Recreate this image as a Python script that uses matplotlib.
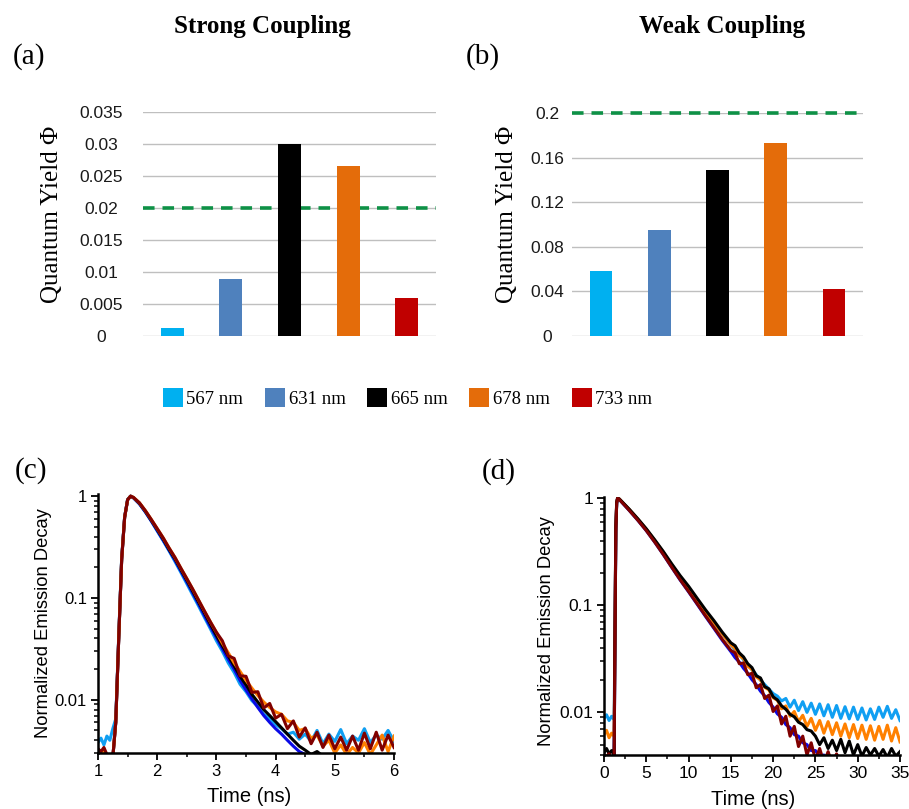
import numpy as np
import matplotlib
matplotlib.use('Agg')
import matplotlib.pyplot as plt
from matplotlib.ticker import FixedLocator, MultipleLocator, LogLocator, NullFormatter

plt.rcParams['font.family'] = ['Liberation Sans', 'DejaVu Sans']

# ---- bar data: quantum yields ----
wavelengths = ['567 nm', '631 nm', '665 nm', '678 nm', '733 nm']
bar_colors = ['#00b0f0', '#4f81bd', '#000000', '#e46c0a', '#c00000']
qy_strong = [0.00125, 0.00885, 0.0300, 0.0266, 0.0059]
qy_weak = [0.058, 0.095, 0.149, 0.173, 0.042]
ref_strong = 0.02
ref_weak = 0.2

# ---- decay data (c): strong coupling, time in ns ----
t_c = [1.0, 1.05, 1.1, 1.15, 1.2, 1.25, 1.3, 1.35, 1.4, 1.45, 1.5, 1.55, 1.6,
       1.7, 1.8, 1.9, 2.0, 2.1, 2.2, 2.3, 2.4, 2.5, 2.6, 2.7, 2.8, 2.9, 3.0,
       3.1, 3.2, 3.3, 3.4, 3.5, 3.6, 3.7, 3.8, 3.9, 4.0,
       4.1, 4.2, 4.3, 4.4, 4.5, 4.6, 4.7, 4.8, 4.9, 5.0,
       5.1, 5.2, 5.3, 5.4, 5.5, 5.6, 5.7, 5.8, 5.9, 6.0]
dc_567 = [0.0038, 0.0042, 0.0036, 0.0044, 0.0040, 0.0052, 0.0065, 0.042, 0.25, 0.63, 0.93, 1.0, 0.96,
          0.84, 0.70, 0.57, 0.455, 0.365, 0.29, 0.228, 0.178, 0.138, 0.107, 0.083, 0.064, 0.0495, 0.038,
          0.030, 0.023, 0.0185, 0.0142, 0.0120, 0.0098, 0.0086, 0.0072, 0.0066, 0.0057,
          0.0052, 0.0046, 0.0048, 0.0041, 0.0046, 0.0039, 0.0050, 0.0037, 0.0046, 0.0039,
          0.0051, 0.0037, 0.0044, 0.0040, 0.0052, 0.0038, 0.0045, 0.0041, 0.0050, 0.0039]
dc_631 = [0.0030, 0.0029, 0.0031, 0.0028, 0.0029, 0.0027, 0.006, 0.04, 0.24, 0.62, 0.92, 1.0, 0.96,
          0.84, 0.70, 0.57, 0.46, 0.37, 0.295, 0.235, 0.184, 0.144, 0.112, 0.087, 0.067, 0.052, 0.041,
          0.032, 0.025, 0.020, 0.0155, 0.0125, 0.0102, 0.0084, 0.0070, 0.0060, 0.0052,
          0.0046, 0.0040, 0.0035, 0.0031, 0.0029, 0.0028, 0.0027, 0.0029, 0.0027, 0.0028,
          0.0026, 0.0029, 0.0027, 0.0028, 0.0026, 0.0028, 0.0027, 0.0029, 0.0026, 0.0028]
dc_665 = [0.0029, 0.0028, 0.0030, 0.0028, 0.0027, 0.0027, 0.006, 0.04, 0.24, 0.62, 0.92, 1.0, 0.97,
          0.85, 0.71, 0.58, 0.47, 0.38, 0.30, 0.243, 0.19, 0.15, 0.117, 0.091, 0.071, 0.055, 0.043,
          0.034, 0.027, 0.0215, 0.017, 0.014, 0.0113, 0.0095, 0.0080, 0.0070, 0.0061,
          0.0053, 0.0046, 0.0040, 0.0035, 0.0032, 0.0029, 0.0031, 0.0028, 0.0027, 0.0029,
          0.0027, 0.0028, 0.0026, 0.0028, 0.0027, 0.0029, 0.0026, 0.0028, 0.0027, 0.0028]
dc_678 = [0.0030, 0.0029, 0.0031, 0.0028, 0.0029, 0.0027, 0.006, 0.04, 0.24, 0.62, 0.92, 1.0, 0.97,
          0.86, 0.72, 0.59, 0.48, 0.39, 0.31, 0.25, 0.196, 0.155, 0.122, 0.095, 0.074, 0.058, 0.046,
          0.036, 0.029, 0.023, 0.019, 0.0155, 0.013, 0.0110, 0.0095, 0.0084, 0.0076,
          0.0072, 0.0062, 0.0060, 0.0050, 0.0052, 0.0042, 0.0045, 0.0035, 0.0040, 0.0030,
          0.0036, 0.0029, 0.0034, 0.0030, 0.0038, 0.0029, 0.0036, 0.0045, 0.0031, 0.0044]
dc_733 = [0.0033, 0.0031, 0.0034, 0.0029, 0.0028, 0.0027, 0.006, 0.04, 0.24, 0.62, 0.92, 1.0, 0.97,
          0.86, 0.72, 0.59, 0.48, 0.39, 0.31, 0.25, 0.196, 0.155, 0.122, 0.095, 0.074, 0.058, 0.046,
          0.038, 0.027, 0.0255, 0.0172, 0.0170, 0.0118, 0.0120, 0.0083, 0.0092, 0.0066,
          0.0072, 0.0052, 0.0062, 0.0043, 0.0053, 0.0037, 0.0048, 0.0034, 0.0045, 0.0033,
          0.0043, 0.0032, 0.0044, 0.0032, 0.0047, 0.0033, 0.0048, 0.0032, 0.0045, 0.0034]

# ---- decay data (d): weak coupling ----
t_d = [0, 0.3, 0.6, 0.9, 1.2, 1.3, 1.4, 1.5, 1.6, 1.8,
       2, 3, 4, 5, 6, 7, 8, 9, 10, 11, 12, 13, 14, 15,
       15.5, 16, 16.5, 17, 17.5, 18, 18.5, 19, 19.5, 20,
       20.5, 21, 21.5, 22, 22.5, 23, 23.5, 24, 24.5, 25,
       25.5, 26, 26.5, 27, 27.5, 28, 28.5, 29, 29.5, 30,
       30.5, 31, 31.5, 32, 32.5, 33, 33.5, 34, 34.5, 35]
dd_567 = [0.0088, 0.0095, 0.0084, 0.0092, 0.0086, 0.06, 0.52, 0.9, 0.99, 0.98,
          0.945, 0.78, 0.635, 0.51, 0.40, 0.31, 0.237, 0.183, 0.143, 0.111, 0.087, 0.068, 0.054, 0.043,
          0.0385, 0.035, 0.031, 0.028, 0.0250, 0.0225, 0.0200, 0.0182, 0.0165, 0.0150,
          0.0142, 0.0128, 0.0135, 0.0112, 0.0130, 0.0104, 0.0126, 0.0100, 0.0122, 0.0096,
          0.0120, 0.0093, 0.0118, 0.0090, 0.0116, 0.0088, 0.0113, 0.0087, 0.0112, 0.0086,
          0.0110, 0.0085, 0.0108, 0.0086, 0.0112, 0.0090, 0.0114, 0.0088, 0.0106, 0.0084]
dd_631 = [0.0038, 0.0037, 0.0039, 0.0036, 0.0037, 0.05, 0.5, 0.9, 1.0, 0.98,
          0.94, 0.77, 0.625, 0.50, 0.39, 0.30, 0.227, 0.173, 0.134, 0.103, 0.079, 0.061, 0.047, 0.037,
          0.0325, 0.0295, 0.0258, 0.0232, 0.0202, 0.0182, 0.0158, 0.0143, 0.0124, 0.0112,
          0.0097, 0.0090, 0.0077, 0.0072, 0.0062, 0.0060, 0.0052, 0.0050, 0.0044, 0.0044,
          0.0039, 0.0040, 0.0035, 0.0037, 0.0033, 0.0035, 0.0032, 0.0034, 0.0031, 0.0033,
          0.0030, 0.0032, 0.0030, 0.0031, 0.0029, 0.0031, 0.0029, 0.0030, 0.0029, 0.0030]
dd_665 = [0.0042, 0.0046, 0.0041, 0.0044, 0.0040, 0.06, 0.55, 0.92, 1.0, 0.99,
          0.955, 0.79, 0.645, 0.52, 0.41, 0.32, 0.245, 0.19, 0.151, 0.117, 0.091, 0.072, 0.056, 0.0447,
          0.042, 0.0360, 0.0330, 0.0285, 0.0262, 0.0220, 0.0210, 0.0174, 0.0166, 0.0140,
          0.0131, 0.0115, 0.0107, 0.0096, 0.0091, 0.0081, 0.0077, 0.0069, 0.0067, 0.0060,
          0.0050, 0.0058, 0.0046, 0.0055, 0.0044, 0.0056, 0.0042, 0.0054, 0.0040, 0.0050,
          0.0039, 0.0047, 0.0040, 0.0046, 0.0039, 0.0045, 0.0038, 0.0046, 0.0039, 0.0043]
dd_678 = [0.0062, 0.0068, 0.0058, 0.0064, 0.0060, 0.06, 0.55, 0.92, 1.0, 0.99,
          0.95, 0.785, 0.64, 0.515, 0.405, 0.315, 0.24, 0.186, 0.146, 0.113, 0.088, 0.069, 0.054, 0.043,
          0.0395, 0.034, 0.0318, 0.0270, 0.0252, 0.0215, 0.0202, 0.0172, 0.0162, 0.0137,
          0.0130, 0.0108, 0.0115, 0.0092, 0.0102, 0.0082, 0.0094, 0.0074, 0.0088, 0.0068,
          0.0084, 0.0064, 0.0082, 0.0062, 0.0080, 0.0060, 0.0078, 0.0058, 0.0077, 0.0057,
          0.0076, 0.0056, 0.0075, 0.0055, 0.0074, 0.0056, 0.0076, 0.0054, 0.0072, 0.0053]
dd_733 = [0.0040, 0.0039, 0.0041, 0.0038, 0.0039, 0.05, 0.5, 0.9, 1.0, 0.98,
          0.94, 0.77, 0.625, 0.50, 0.39, 0.30, 0.228, 0.174, 0.135, 0.104, 0.080, 0.062, 0.048, 0.038,
          0.0360, 0.0285, 0.0290, 0.0225, 0.0232, 0.0170, 0.0182, 0.0135, 0.0145, 0.0102,
          0.0115, 0.0078, 0.0092, 0.0060, 0.0074, 0.0048, 0.0060, 0.0040, 0.0052, 0.0036,
          0.0046, 0.0034, 0.0043, 0.0033, 0.0041, 0.0032, 0.0035, 0.0038, 0.0034, 0.0037,
          0.0033, 0.0036, 0.0032, 0.0035, 0.0032, 0.0034, 0.0031, 0.0034, 0.0031, 0.0033]

c_567, c_631, c_665, c_678, c_733 = '#109ff2', '#0a0ae6', '#000000', '#ff8000', '#800000'

fig = plt.figure(figsize=(9.09, 8.09), dpi=100)
W, H = 909, 809


def px_axes(x0, y0, x1, y1):
    return fig.add_axes([x0 / W, 1 - y1 / H, (x1 - x0) / W, (y1 - y0) / H])


serif = ['Liberation Serif', 'DejaVu Serif']


def bar_panel(ax, vals, ref, ticks, ticklabels, pad):
    x = np.arange(len(vals))
    ax.bar(x, vals, 0.39, color=bar_colors, zorder=3)
    ax.axhline(ref, color='#0e9146', lw=2.6, ls=(0, (3.2, 2.2)), zorder=2, clip_on=False)
    ax.set_xlim(-0.5, len(vals) - 0.5)
    ax.set_ylim(0, ticks[-1])
    ax.set_yticks(ticks)
    ax.set_yticklabels(ticklabels)
    ax.grid(axis='y', color='#bfbfbf', lw=1.0, zorder=0)
    ax.set_axisbelow(True)
    for s in ax.spines.values():
        s.set_visible(False)
    ax.set_xticks([])
    ax.tick_params(axis='y', length=0, pad=pad, labelsize=12.5, labelcolor='#1a1a1a')
    for lab in ax.get_yticklabels():
        lab.set_ha('center')
    ax.set_ylabel('Quantum Yield Φ', family=serif, fontsize=18)


ax_a = px_axes(143, 112, 436, 336)
bar_panel(ax_a, qy_strong, ref_strong,
          [0, 0.005, 0.01, 0.015, 0.02, 0.025, 0.03, 0.035],
          ['0', '0.005', '0.01', '0.015', '0.02', '0.025', '0.03', '0.035'], 30)
ax_a.yaxis.set_label_coords(-0.273, 0.545)

ax_b = px_axes(572, 113, 863, 336)
bar_panel(ax_b, qy_weak, ref_weak,
          [0, 0.04, 0.08, 0.12, 0.16, 0.2],
          ['0', '0.04', '0.08', '0.12', '0.16', '0.2'], 18)
ax_b.yaxis.set_label_coords(-0.186, 0.547)

fig.text(262 / W, 1 - 27 / H, 'Strong Coupling', family=serif, fontweight='bold',
         fontsize=18, ha='center', va='center')
fig.text(722 / W, 1 - 27 / H, 'Weak Coupling', family=serif, fontweight='bold',
         fontsize=18, ha='center', va='center')

handles = ax_a.patches[:5]
fig.legend(handles, wavelengths, loc='center', bbox_to_anchor=(407.5 / W, 1 - 398 / H),
           ncol=5, frameon=False, prop={'family': serif, 'size': 13.5},
           handlelength=1.07, handleheight=1.17, handletextpad=0.2, columnspacing=1.15)


def decay_panel(ax, t, curves, ylim, xlim, xmaj, xmin, fs):
    for y, c in curves:
        ax.plot(t, y, color=c, lw=2.2)
    ax.set_yscale('log')
    ax.set_ylim(*ylim)
    ax.set_xlim(*xlim)
    ax.yaxis.set_major_locator(FixedLocator([0.01, 0.1, 1]))
    ax.set_yticklabels(['0.01', '0.1', '1'])
    ax.yaxis.set_minor_locator(LogLocator(base=10, subs=np.arange(2, 10), numticks=10))
    ax.yaxis.set_minor_formatter(NullFormatter())
    ax.xaxis.set_major_locator(MultipleLocator(xmaj))
    ax.xaxis.set_minor_locator(MultipleLocator(xmin))
    for s in ['top', 'right']:
        ax.spines[s].set_visible(False)
    for s in ['left', 'bottom']:
        ax.spines[s].set_linewidth(1.8)
        ax.spines[s].set_zorder(5)
    ax.tick_params(which='major', direction='out', length=5, width=1.3, labelsize=fs, pad=3)
    ax.tick_params(which='minor', direction='out', length=3, width=1.1)
    ax.set_ylabel('Normalized Emission Decay', fontsize=13.2)
    ax.set_xlabel('Time (ns)', fontsize=14.5)


ax_c = px_axes(98, 494, 394, 753)
decay_panel(ax_c, t_c, [(dc_567, c_567), (dc_631, c_631), (dc_665, c_665),
                        (dc_678, c_678), (dc_733, c_733)],
            (0.003, 1.05), (1, 6), 1, 0.5, 12)
ax_c.yaxis.set_label_coords(-0.155, 0.502)
ax_c.xaxis.set_label_coords(0.51, -0.131)

ax_d = px_axes(604, 497, 900, 755)
decay_panel(ax_d, t_d, [(dd_567, c_567), (dd_631, c_631), (dd_678, c_678),
                        (dd_665, c_665), (dd_733, c_733)],
            (0.004, 1.03), (0, 35), 5, 2.5, 12.5)
ax_d.yaxis.set_label_coords(-0.166, 0.48)
ax_d.xaxis.set_label_coords(0.505, -0.136)

for lab, x, y in [('(a)', 13, 57), ('(b)', 466, 57), ('(c)', 15, 471), ('(d)', 482, 472)]:
    fig.text(x / W, 1 - y / H, lab, family=serif, fontsize=21, ha='left', va='center')

fig.savefig('out.png', dpi=100)
